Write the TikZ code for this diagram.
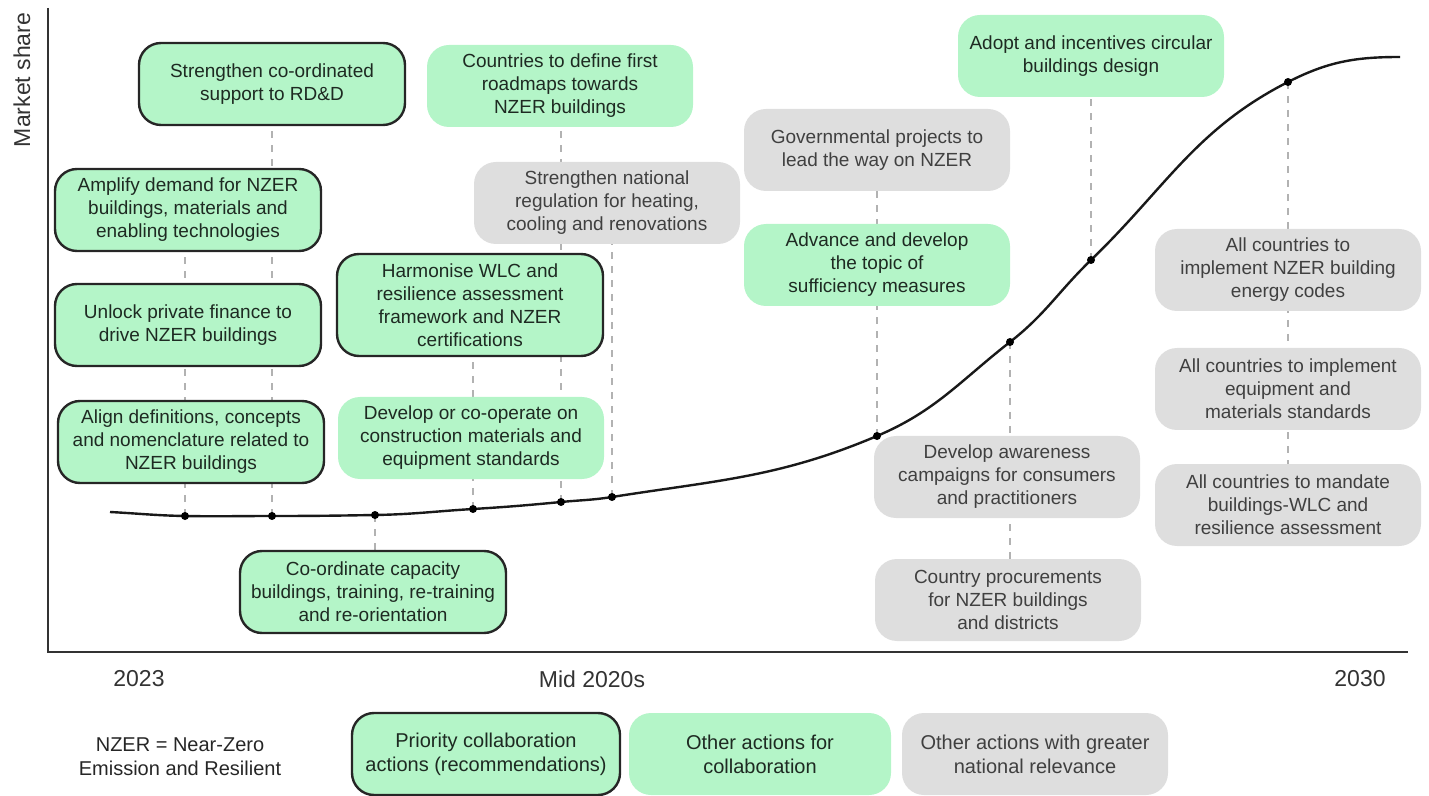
\documentclass[tikz,border=0pt]{standalone}
\usepackage{fontspec}
\setmainfont{Liberation Sans}
\usetikzlibrary{backgrounds}

\definecolor{mint}{HTML}{B4F5C8}
\definecolor{lightgrey}{HTML}{DEDEDE}
\definecolor{boxtext}{HTML}{1E2A22}

\tikzset{
  card/.style={rounded corners=11pt, align=center, minimum width=133pt,
    minimum height=41pt, inner sep=2pt, text=boxtext,
    font=\fontsize{9.5}{11.5}\selectfont},
  prio/.style={card, fill=mint, draw=black!85, line width=1.2pt},
  other/.style={card, fill=mint},
  national/.style={card, fill=lightgrey, text=black!75},
  link/.style={dash pattern=on 3.5pt off 3.5pt, line width=0.6pt, black!30},
  axislabel/.style={font=\fontsize{11.5}{13}\selectfont, text=black!80}
}

\begin{document}
\begin{tikzpicture}[x=0.5pt, y=-0.5pt]
        \useasboundingbox (0,0) rectangle (1429,796);
        % axes
        \draw[line width=1.3pt, black!80] (48,8) -- (48,652) -- (1408,652);
        \node[axislabel, rotate=90] (share) at (22,80) {Market share};
        \node[axislabel] (y2023) at (139,679) {2023};
        \node[axislabel] (ymid) at (592,679) {Mid 2020s};
        \node[axislabel] (y2030) at (1360,679) {2030};

        % points on the curve
        \foreach \n/\x/\y in {1/185/516, 2/272/516, 3/375/515, 4/473/509, 5/561/502,
                              6/612/497, 7/877/436, 8/1010/342, 9/1091/260, 10/1288/82}
          \coordinate (d\n) at (\x,\y);
        \coordinate (start) at (110,512);
        \coordinate (end) at (1400,57);

        % actions
        \node[prio] (rdd) at (272,84) {Strengthen co-ordinated\\support to RD\&D};
        \node[prio] (amplify) at (188,210) {Amplify demand for NZER\\buildings, materials and\\enabling technologies};
        \node[prio] (unlock) at (188,325) {Unlock private finance to\\drive NZER buildings};
        \node[prio] (align) at (191,442) {Align definitions, concepts\\and nomenclature related to\\NZER buildings};
        \node[prio, minimum height=51pt] (harmon) at (470,305) {Harmonise WLC and\\resilience assessment\\framework and NZER\\certifications};
        \node[other] (develop) at (471,438) {Develop or co-operate on\\construction materials and\\equipment standards};
        \node[other] (roadmaps) at (560,86) {Countries to define first\\roadmaps towards\\NZER buildings};
        \node[national] (natreg) at (607,203) {Strengthen national\\regulation for heating,\\cooling and renovations};
        \node[prio] (capacity) at (373,592) {Co-ordinate capacity\\buildings, training, re-training\\and re-orientation};
        \node[national] (govproj) at (877,150) {Governmental projects to\\lead the way on NZER};
        \node[other] (suffic) at (877,265) {Advance and develop\\the topic of\\sufficiency measures};
        \node[other] (circular) at (1091,56) {Adopt and incentives circular\\buildings design};
        \node[national] (aware) at (1007,477) {Develop awareness\\campaigns for consumers\\and practitioners};
        \node[national] (procure) at (1008,600) {Country procurements\\for NZER buildings\\and districts};
        \node[national] (codes) at (1288,270) {All countries to\\implement NZER building\\energy codes};
        \node[national] (standards) at (1288,389) {All countries to implement\\equipment and\\materials standards};
        \node[national] (mandate) at (1288,505) {All countries to mandate\\buildings-WLC and\\resilience assessment};

        % legend
        \node[font=\fontsize{10}{12}\selectfont, align=center, text=black!85] (note) at (180,757) {NZER = Near-Zero\\Emission and Resilient};
        \node[prio, minimum width=134pt, font=\fontsize{10}{12}\selectfont] (legprio) at (486,754) {Priority collaboration\\actions (recommendations)};
        \node[other, minimum width=131pt, font=\fontsize{10}{12}\selectfont] (legother) at (760,754) {Other actions for\\collaboration};
        \node[national, minimum width=133pt, font=\fontsize{10}{12}\selectfont] (legnat) at (1035,754) {Other actions with greater\\national relevance};

        % dashed links, behind the boxes
        \begin{pgfonlayer}{background}
          \draw[link] (d1) -- (d1 |- amplify.south);
          \draw[link] (d2) -- (d2 |- rdd.south);
          \draw[link] (d3) -- (d3 |- capacity.north);
          \draw[link] (d4) -- (d4 |- harmon.south);
          \draw[link] (d5) -- (d5 |- roadmaps.south);
          \draw[link] (d6) -- (d6 |- natreg.south);
          \draw[link] (d7) -- (d7 |- govproj.south);
          \draw[link] (d8) -- (d8 |- procure.north);
          \draw[link] (d9) -- (d9 |- circular.south);
          \draw[link] (d10) -- (d10 |- mandate.north);
        \end{pgfonlayer}

        % market share curve
        \draw[line width=1.2pt, black!90]
          (start) to[out=-3, in=179] (d1) to[out=-1, in=180] (d2)
          to[out=0, in=181] (d3) to[out=1, in=183.5] (d4)
          to[out=3.5, in=185.5] (d5) to[out=5.5, in=189] (d6)
          to[out=9, in=203] (d7) to[out=23, in=218] (d8)
          to[out=38, in=224] (d9) to[out=44, in=207] (d10)
          to[out=27, in=180] (end);
        \foreach \n in {1,...,10}
          \fill (d\n) circle (2pt);
\end{tikzpicture}
\end{document}
